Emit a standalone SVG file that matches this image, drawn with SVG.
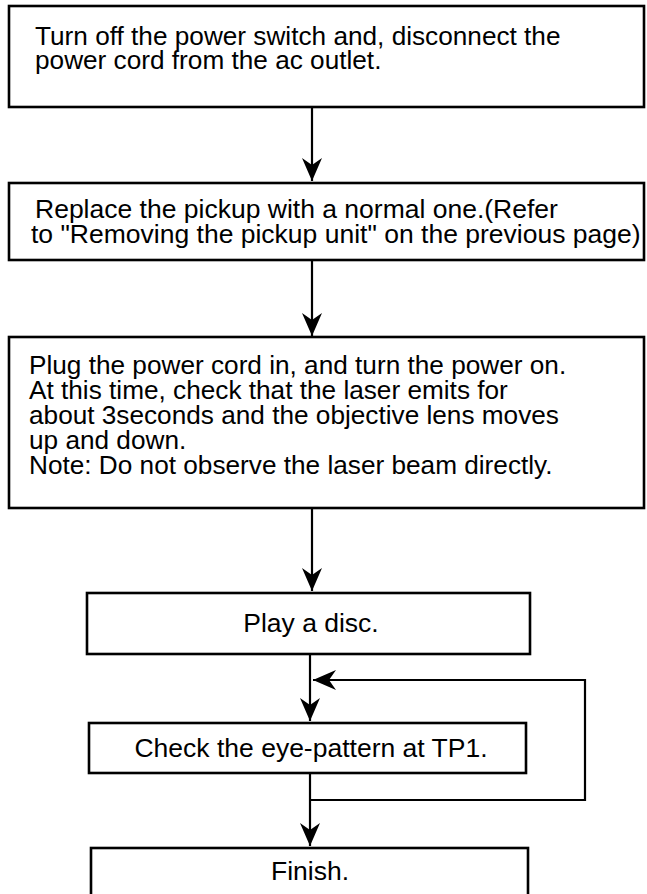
<svg xmlns="http://www.w3.org/2000/svg" width="647" height="894" viewBox="0 0 647 894">
<style>
.box{fill:#fff;stroke:#000;stroke-width:2.6}
.t{font-family:"Liberation Sans",Arial,Helvetica,sans-serif;font-size:26.2px;fill:#000}
.c{text-anchor:middle;font-size:26.5px}
.ln{fill:none;stroke:#000;stroke-width:2.2}
</style>
<defs>
<marker id="ah" markerUnits="userSpaceOnUse" viewBox="-24 -11 26 22" refX="0" refY="0" markerWidth="26" markerHeight="22" orient="auto">
<path d="M0,0 L-23,-10 L-16,0 L-23,10 Z" fill="#000"/>
</marker>
</defs>
<g id="connectors">
<line class="ln" x1="312" y1="107" x2="312" y2="181" marker-end="url(#ah)"/>
<line class="ln" x1="312" y1="260" x2="312" y2="336" marker-end="url(#ah)"/>
<line class="ln" x1="312" y1="508" x2="312" y2="591" marker-end="url(#ah)"/>
<line class="ln" x1="310" y1="654" x2="310" y2="721" marker-end="url(#ah)"/>
<polyline class="ln" points="310,800 585,800 585,680 313,680" marker-end="url(#ah)"/>
<line class="ln" x1="310" y1="773" x2="310" y2="846" marker-end="url(#ah)"/>
</g>
<g id="n1">
<rect class="box" x="9" y="6" width="635" height="101"/>
<text class="t" x="35" y="45">Turn off the power switch and, disconnect the</text>
<text class="t" x="35" y="69">power cord from the ac outlet.</text>
</g>
<g id="n2">
<rect class="box" x="9" y="183" width="635" height="77"/>
<text class="t" x="35" y="218" style="font-size:26.5px">Replace the pickup with a normal one.(Refer</text>
<text class="t" x="31" y="243" style="font-size:26.5px">to "Removing the pickup unit" on the previous page)</text>
</g>
<g id="n3">
<rect class="box" x="9" y="337" width="635" height="171"/>
<text class="t" x="29" y="374">Plug the power cord in, and turn the power on.</text>
<text class="t" x="29" y="399">At this time, check that the laser emits for</text>
<text class="t" x="29" y="424">about 3seconds and the objective lens moves</text>
<text class="t" x="29" y="449">up and down.</text>
<text class="t" x="29" y="474">Note: Do not observe the laser beam directly.</text>
</g>
<g id="n4">
<rect class="box" x="87" y="593" width="443" height="61"/>
<text class="t c" x="311" y="632">Play a disc.</text>
</g>
<g id="n5">
<rect class="box" x="89" y="723" width="437" height="50"/>
<text class="t c" x="311" y="757">Check the eye-pattern at TP1.</text>
</g>
<g id="n6">
<rect class="box" x="91" y="848" width="437" height="70"/>
<text class="t c" x="310" y="880">Finish.</text>
</g>
</svg>
